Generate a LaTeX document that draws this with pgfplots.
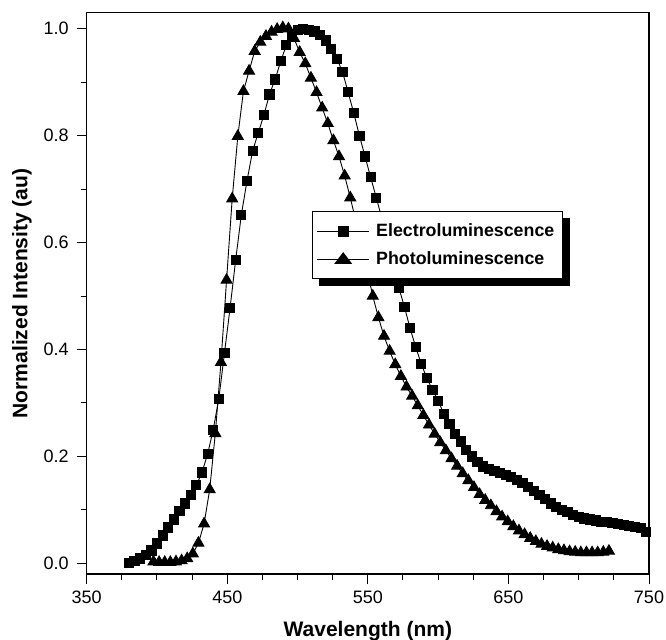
\documentclass[border=0pt]{standalone}
\usepackage{pgfplots}
\pgfplotsset{compat=1.18}
\usepackage{pgfplotstable}
\usepackage{fontspec}
\setmainfont{Liberation Sans}
\usetikzlibrary{shadows}

\pgfplotstableread{
x y
380 0.001
384 0.004
388 0.009
392 0.016
396 0.024
400 0.037
404 0.052
408 0.067
412 0.082
416 0.098
420 0.112
424 0.128
428 0.146
432 0.170
436 0.204
440 0.250
444 0.308
448 0.393
452 0.478
456 0.568
460 0.652
464 0.715
468 0.771
472 0.805
476 0.838
480 0.877
484 0.905
488 0.939
492 0.969
496 0.988
500 0.998
504 1.000
508 0.998
512 0.995
516 0.989
520 0.978
524 0.962
528 0.944
532 0.919
536 0.881
540 0.842
544 0.800
548 0.761
552 0.722
556 0.684
560 0.645
564 0.600
568 0.558
572 0.516
576 0.480
580 0.440
584 0.405
588 0.373
592 0.346
596 0.325
600 0.304
604 0.280
608 0.260
612 0.242
616 0.228
620 0.212
624 0.200
628 0.189
632 0.181
636 0.176
640 0.173
644 0.169
648 0.165
652 0.161
656 0.156
660 0.151
664 0.143
668 0.135
672 0.128
676 0.120
680 0.112
684 0.106
688 0.100
692 0.096
696 0.091
700 0.087
704 0.084
708 0.082
712 0.080
716 0.078
720 0.077
724 0.075
728 0.074
732 0.072
736 0.070
740 0.068
744 0.066
748 0.058
}\ELdata

\pgfplotstableread{
x y
397.5 0.003
401.5 0.002
405.5 0.002
409.5 0.002
413.5 0.003
417.5 0.005
421.5 0.009
425.5 0.018
429.5 0.038
433.5 0.074
437.5 0.138
441.5 0.243
445.5 0.376
449.5 0.530
453.5 0.682
457.5 0.799
461.5 0.883
465.5 0.921
469.5 0.958
473.5 0.975
477.5 0.986
481.5 0.994
485.5 0.999
489.5 1.002
493.5 1.000
497.5 0.982
501.5 0.956
505.5 0.935
509.5 0.908
513.5 0.881
517.5 0.852
521.5 0.823
525.5 0.791
529.5 0.761
533.5 0.725
537.5 0.684
541.5 0.640
545.5 0.595
549.5 0.548
553.5 0.500
557.5 0.460
561.5 0.425
565.5 0.397
569.5 0.372
573.5 0.350
577.5 0.330
581.5 0.313
585.5 0.295
589.5 0.277
593.5 0.259
597.5 0.242
601.5 0.226
605.5 0.211
609.5 0.196
613.5 0.182
617.5 0.168
621.5 0.155
625.5 0.142
629.5 0.129
633.5 0.118
637.5 0.108
641.5 0.097
645.5 0.087
649.5 0.078
653.5 0.069
657.5 0.061
661.5 0.054
665.5 0.047
669.5 0.041
673.5 0.036
677.5 0.032
681.5 0.029
685.5 0.026
689.5 0.024
693.5 0.022
697.5 0.021
701.5 0.020
705.5 0.020
709.5 0.020
713.5 0.020
717.5 0.021
721.5 0.023
}\PLdata

\begin{document}
\begin{tikzpicture}
\useasboundingbox (0,0) rectangle (666bp,640bp);
\begin{axis}[
  at={(86.7bp,66bp)}, anchor=south west,
  scale only axis, width=562.3bp, height=561.3bp,
  xmin=350, xmax=750, ymin=-0.02, ymax=1.03,
  xtick={350,450,550,650,750}, minor x tick num=3,
  ytick={0,0.2,0.4,0.6,0.8,1}, minor y tick num=1,
  tick align=outside, xtick pos=bottom, ytick pos=left,
  major tick length=10bp, minor tick length=6bp,
  every tick/.style={black, line width=1bp},
  axis line style={line width=1.1bp},
  /pgf/number format/assume math mode=true,
  tick label style={font=\fontsize{18bp}{20bp}\selectfont},
  xticklabel style={yshift=-3.5bp},
  yticklabel style={xshift=-4.5bp, /pgf/number format/.cd, fixed, fixed zerofill, precision=1},
  xlabel={Wavelength (nm)},
  ylabel={Normalized Intensity (au)},
  label style={font=\fontsize{21bp}{24bp}\selectfont\bfseries},
  xlabel style={at={(axis description cs:0.5,-0.1122)}, anchor=base},
  ylabel style={at={(axis description cs:-0.115,0.5)}, anchor=center},
  legend cell align=left,
  legend style={at={(axis description cs:0.4001,0.6472)}, anchor=north west,
    draw=black, line width=1.2bp, fill=white,
    font=\fontsize{17.8bp}{20bp}\selectfont\bfseries,
    drop shadow={shadow xshift=7bp, shadow yshift=-7bp, fill=black, opacity=1},
    inner xsep=4.5bp, inner ysep=9.5bp, row sep=7.7bp,
    nodes={inner ysep=3bp, inner xsep=4bp}},
]
\addplot[black, line width=0.9bp, mark=square*, mark size=4.6bp, mark options={solid, fill=black},
  legend image code/.code={%
    \pgfsetlinewidth{0.9bp}%
    \pgfpathmoveto{\pgfpoint{0bp}{0bp}}\pgfpathlineto{\pgfpoint{52bp}{0bp}}\pgfusepath{stroke}%
    \pgfpathrectangle{\pgfpoint{20.5bp}{-5.5bp}}{\pgfpoint{11bp}{11bp}}\pgfusepath{fill}%
    \pgfpathmoveto{\pgfpoint{55bp}{0bp}}\pgfusepath{}%
  }] table[x=x, y=y] {\ELdata};
\addlegendentry{Electroluminescence}
\addplot[black, line width=0.9bp, mark=triangle*, mark size=6.3bp, mark options={solid, fill=black},
  legend image code/.code={%
    \pgfsetlinewidth{0.9bp}%
    \pgfpathmoveto{\pgfpoint{0bp}{0bp}}\pgfpathlineto{\pgfpoint{52bp}{0bp}}\pgfusepath{stroke}%
    \pgfpathmoveto{\pgfpoint{17bp}{-4.8bp}}\pgfpathlineto{\pgfpoint{35bp}{-4.8bp}}\pgfpathlineto{\pgfpoint{26bp}{7bp}}\pgfpathclose\pgfusepath{fill}%
    \pgfpathmoveto{\pgfpoint{55bp}{0bp}}\pgfusepath{}%
  }] table[x=x, y=y] {\PLdata};
\addlegendentry{Photoluminescence}
\end{axis}
\end{tikzpicture}
\end{document}
